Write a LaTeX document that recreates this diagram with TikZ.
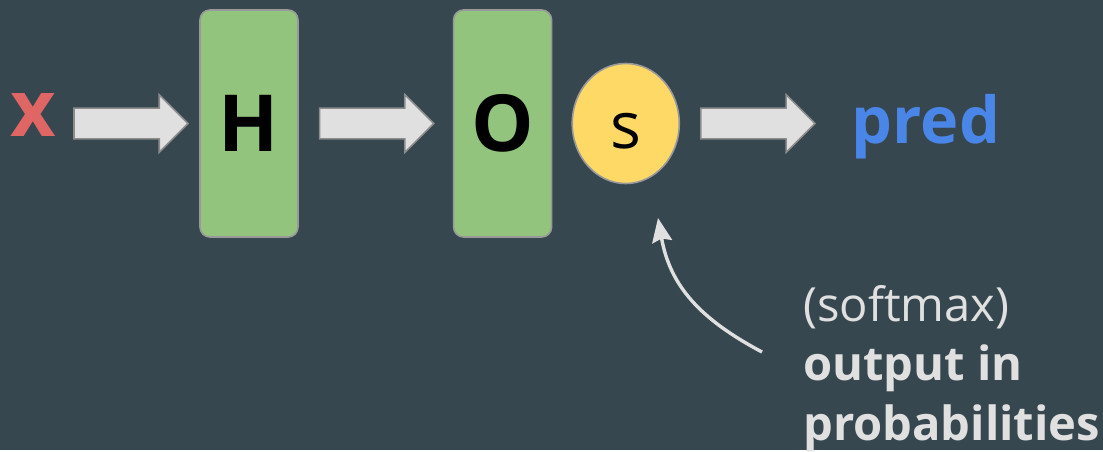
\documentclass[tikz,border=0pt]{standalone}
\usepackage{fontspec}
\setmainfont{Open Sans}
\usetikzlibrary{arrows.meta,positioning,shapes.geometric,shapes.arrows}

\definecolor{slate}{HTML}{37474F}
\definecolor{layergreen}{HTML}{93C47D}
\definecolor{layerline}{HTML}{999999}
\definecolor{softyellow}{HTML}{FFD966}
\definecolor{fatfill}{HTML}{E0E0E0}
\definecolor{fatline}{HTML}{8C8C8C}
\definecolor{inred}{HTML}{E06666}
\definecolor{predblue}{HTML}{4A86E8}
\definecolor{notegray}{HTML}{E0E0E0}

\begin{document}
\begin{tikzpicture}[
x=0.025cm, y=0.025cm,
layer/.style={draw=layerline, fill=layergreen, line width=0.04cm, rounded corners=0.25cm, minimum width=2.45cm, minimum height=5.675cm, inner sep=0, font=\fontsize{56}{60}\selectfont\bfseries},
fat/.style={single arrow, draw=fatline, fill=fatfill, line width=0.04cm, minimum height=2.85cm, inner xsep=0, inner ysep=0.3625cm, single arrow head extend=0.3375cm, single arrow head indent=0},
soft/.style={ellipse, draw=layerline, fill=softyellow, line width=0.04cm, minimum width=2.675cm, minimum height=3cm, inner sep=0, text height=1.25cm, text depth=0, font=\fontsize{46}{50}\selectfont},
word/.style={inner sep=0, anchor=base, font=\fontsize{#1}{#1}\selectfont\bfseries},
note/.style={inner sep=0, align=left, text=notegray, font=\fontsize{33.5}{42}\selectfont},
pointer/.style={-{Stealth[length=0.6cm, width=0.5cm, inset=0.08cm]}, draw=notegray, line width=0.085cm}
]
% background and page size
\fill[slate] (0,0) rectangle (1103,-450);

% network chain
\node[layer] (hid) at (249,-123.5) {H};
\node[fat, left=0.25cm of hid] (a1) {};
\node[fat, right=0.5cm of hid] (a2) {};
\node[layer, right=0.45cm of a2] (out) {O};
\node[soft, right=0.475cm of out] (sm) {s};
\node[fat, right=0.5cm of sm] (a3) {};

\node[word=56, text=inred] (xin) at (33.5,-136) {x};
\node[word=46, text=predblue] (pred) at (926,-143) {pred};

% softmax remark (base = last line)
\node[note, anchor=base west] (note) at (803,-440) {(softmax)\\\textbf{output in}\\\textbf{probabilities}};
\coordinate (tail) at (762,-352);
\coordinate (tip) at (658,-218);
\draw[pointer] (tail) to[out=152, in=-80, looseness=1.05] (tip);
\end{tikzpicture}
\end{document}
